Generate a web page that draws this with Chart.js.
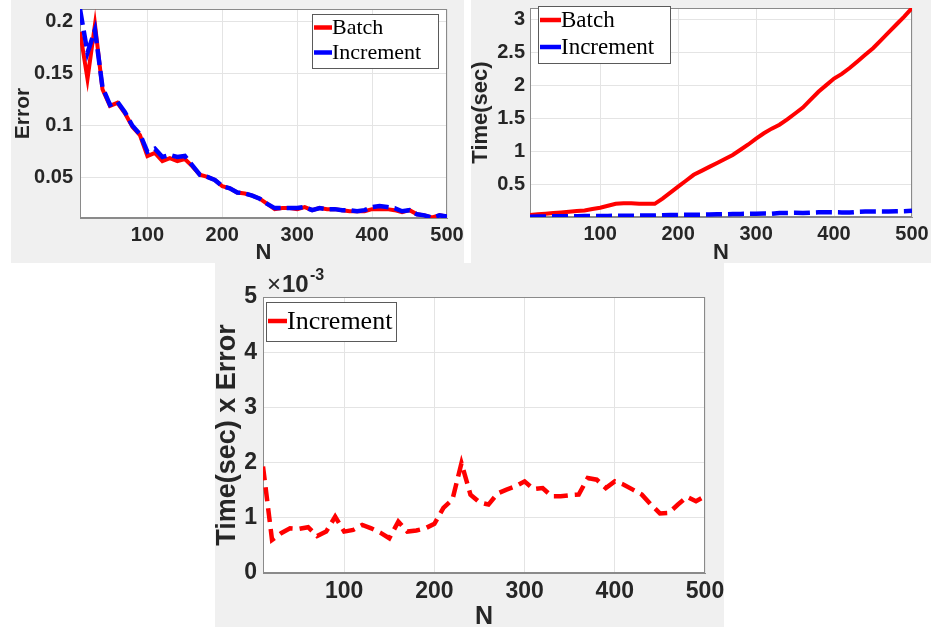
<!DOCTYPE html>
<html>
<head>
<meta charset="utf-8">
<script src="https://cdn.jsdelivr.net/npm/chart.js@4.4.1/dist/chart.umd.min.js"></script>
<style>
  body { margin: 0; background: #fff; width: 931px; height: 627px; position: relative; overflow: hidden; }
  .panel { position: absolute; background: #f0f0f0; }
  #p1 { left: 11px; top: 0; width: 453px; height: 263px; }
  #p2 { left: 471px; top: 0; width: 460px; height: 263px; }
  #p3 { left: 215px; top: 263px; width: 509px; height: 364px; }
</style>
</head>
<body>
<div class="panel" id="p1"><canvas id="c1"></canvas></div>
<div class="panel" id="p2"><canvas id="c2"></canvas></div>
<div class="panel" id="p3"><canvas id="c3"></canvas></div>
<script>
// sample sizes
const nValues = [10, 20, 30, 40, 50, 60, 70, 80, 90, 100,
  110, 120, 130, 140, 150, 160, 170, 180, 190, 200,
  210, 220, 230, 240, 250, 260, 270, 280, 290, 300,
  310, 320, 330, 340, 350, 360, 370, 380, 390, 400,
  410, 420, 430, 440, 450, 460, 470, 480, 490, 500];

// top-left: error
const errorBatch = [0.190, 0.145, 0.197, 0.135, 0.119, 0.122, 0.112, 0.099, 0.091, 0.071,
  0.074, 0.066, 0.069, 0.066, 0.068, 0.061, 0.053, 0.051, 0.048, 0.042,
  0.040, 0.036, 0.035, 0.033, 0.030, 0.025, 0.020, 0.021, 0.021, 0.020,
  0.022, 0.019, 0.021, 0.020, 0.020, 0.019, 0.018, 0.018, 0.018, 0.020,
  0.020, 0.020, 0.019, 0.017, 0.019, 0.015, 0.014, 0.012, 0.014, 0.013];
const errorIncrement = [0.212, 0.170, 0.192, 0.137, 0.120, 0.123, 0.113, 0.100, 0.092, 0.075,
  0.078, 0.070, 0.072, 0.070, 0.071, 0.062, 0.053, 0.051, 0.048, 0.042,
  0.040, 0.036, 0.035, 0.033, 0.030, 0.025, 0.021, 0.021, 0.021, 0.021,
  0.022, 0.019, 0.021, 0.020, 0.020, 0.019, 0.019, 0.018, 0.019, 0.022,
  0.023, 0.022, 0.021, 0.018, 0.019, 0.015, 0.014, 0.012, 0.014, 0.013];

// top-right: time (sec)
const timeBatch = [0.03, 0.04, 0.05, 0.06, 0.07, 0.08, 0.09, 0.10, 0.12, 0.14,
  0.17, 0.20, 0.21, 0.21, 0.20, 0.20, 0.20, 0.28, 0.37, 0.46,
  0.55, 0.64, 0.70, 0.76, 0.82, 0.88, 0.94, 1.02, 1.10, 1.19,
  1.27, 1.34, 1.40, 1.48, 1.57, 1.66, 1.78, 1.90, 2.00, 2.10,
  2.17, 2.26, 2.36, 2.46, 2.56, 2.68, 2.80, 2.92, 3.04, 3.17];
const timeIncrement = [0.005, 0.006, 0.008, 0.010, 0.011, 0.012, 0.013, 0.014, 0.015, 0.016,
  0.017, 0.018, 0.019, 0.020, 0.021, 0.022, 0.023, 0.027, 0.030, 0.032,
  0.033, 0.035, 0.036, 0.038, 0.040, 0.042, 0.045, 0.047, 0.048, 0.050,
  0.052, 0.050, 0.060, 0.062, 0.063, 0.060, 0.066, 0.072, 0.073, 0.072,
  0.070, 0.068, 0.078, 0.082, 0.085, 0.085, 0.084, 0.086, 0.089, 0.095];

// bottom: time x error
const timeErrorIncrement = [1.93e-3, 0.60e-3, 0.72e-3, 0.81e-3, 0.80e-3, 0.83e-3, 0.67e-3, 0.75e-3, 1.02e-3, 0.75e-3,
  0.78e-3, 0.87e-3, 0.81e-3, 0.73e-3, 0.63e-3, 0.93e-3, 0.75e-3, 0.77e-3, 0.81e-3, 0.89e-3,
  1.18e-3, 1.33e-3, 1.99e-3, 1.42e-3, 1.28e-3, 1.24e-3, 1.44e-3, 1.51e-3, 1.57e-3, 1.66e-3,
  1.52e-3, 1.54e-3, 1.39e-3, 1.39e-3, 1.41e-3, 1.42e-3, 1.72e-3, 1.69e-3, 1.54e-3, 1.66e-3,
  1.60e-3, 1.51e-3, 1.42e-3, 1.24e-3, 1.08e-3, 1.09e-3, 1.24e-3, 1.38e-3, 1.30e-3, 1.39e-3];

const xTicks = [100, 200, 300, 400, 500];
const errorTicks = [0.05, 0.1, 0.15, 0.2];
const timeTicks = [0.5, 1, 1.5, 2, 2.5, 3];
const productTicks = [0, 1e-3, 2e-3, 3e-3, 4e-3, 5e-3];

const SANS = "'Liberation Sans', Arial, Helvetica, sans-serif";
const SERIF = "'Liberation Serif', 'Times New Roman', serif";
const TEXT = '#262626';

const toPoints = ys => nValues.map((n, i) => ({ x: n, y: ys[i] }));

// white plot area + box frame like matlab
const frame = {
  id: 'frame',
  beforeDraw(chart) {
    const { ctx, chartArea: a } = chart;
    ctx.save();
    ctx.fillStyle = '#fff';
    ctx.fillRect(a.left, a.top, a.right - a.left, a.bottom - a.top);
    ctx.restore();
  },
  beforeDatasetsDraw(chart) {
    const { ctx, chartArea: a } = chart;
    ctx.save();
    ctx.strokeStyle = '#8a8a8a';
    ctx.lineWidth = 1;
    ctx.strokeRect(a.left + 0.5, a.top + 0.5, a.right - a.left - 1, a.bottom - a.top - 1);
    ctx.restore();
  }
};

// legend box drawn inside the axes
const boxLegend = {
  id: 'boxLegend',
  afterDraw(chart, args, o) {
    if (!o || !o.w) return;
    const ctx = chart.ctx;
    ctx.save();
    ctx.fillStyle = '#fff';
    ctx.fillRect(o.x, o.y, o.w, o.h);
    ctx.strokeStyle = '#5a5a5a';
    ctx.lineWidth = 1;
    ctx.strokeRect(o.x + 0.5, o.y + 0.5, o.w, o.h);
    ctx.font = o.font;
    ctx.textBaseline = 'middle';
    chart.data.datasets.forEach((ds, i) => {
      const cy = o.y + o.rowTop + i * o.rowGap;
      ctx.strokeStyle = ds.borderColor;
      ctx.lineWidth = 4.5;
      ctx.beginPath();
      ctx.moveTo(o.x + 2, cy);
      ctx.lineTo(o.x + 2 + o.sample, cy);
      ctx.stroke();
      ctx.fillStyle = '#000';
      ctx.fillText(ds.label, o.x + 2 + o.sample, cy + 1);
    });
    ctx.restore();
  }
};

// "x10^-3" multiplier text
const exponent = {
  id: 'exponent',
  afterDraw(chart, args, o) {
    if (!o || !o.show) return;
    const ctx = chart.ctx;
    ctx.save();
    ctx.fillStyle = TEXT;
    ctx.textBaseline = 'alphabetic';
    ctx.font = `24px ${SANS}`;
    ctx.fillText('\u00d7', o.x, o.y);
    ctx.font = `bold 24px ${SANS}`;
    ctx.fillText('10', o.x + 15, o.y);
    ctx.font = `bold 16px ${SANS}`;
    ctx.fillText('-3', o.x + 43, o.y - 12);
    ctx.restore();
  }
};

function makeAxes(o) {
  return {
    x: {
      type: 'linear', min: 10, max: 500,
      afterBuildTicks: s => { s.ticks = xTicks.map(v => ({ value: v })); },
      afterFit: s => { s.height = o.xh; s.paddingLeft = 0; s.paddingRight = 0; },
      grid: { color: '#e4e4e4', drawTicks: false },
      border: { color: '#8a8a8a' },
      ticks: { font: { family: SANS, size: o.tick, weight: 'bold' }, color: TEXT, padding: o.xpad, maxRotation: 0, autoSkip: false },
      title: { display: true, text: 'N', color: TEXT, font: { family: SANS, size: o.xtitle, weight: 'bold' }, padding: { top: 0, bottom: o.xtpad } }
    },
    y: {
      type: 'linear', min: o.ymin, max: o.ymax,
      afterBuildTicks: s => { s.ticks = o.yticks.map(v => ({ value: v })); },
      afterFit: s => { s.width = o.yw; s.paddingTop = 0; s.paddingBottom = 0; },
      grid: { color: '#e4e4e4', drawTicks: false },
      border: { color: '#8a8a8a' },
      ticks: { font: { family: SANS, size: o.tick, weight: 'bold' }, color: TEXT, padding: o.ypad, autoSkip: false, callback: o.fmt },
      title: { display: true, text: o.ytitle, color: TEXT, font: { family: SANS, size: o.ytsize, weight: 'bold' }, padding: { top: o.ytpad, bottom: 0 } }
    }
  };
}

function makeChart(id, datasets, axes, pad, legend, expo) {
  return new Chart(document.getElementById(id), {
    type: 'line',
    data: { datasets: datasets },
    options: {
      responsive: true,
      maintainAspectRatio: false,
      animation: false,
      devicePixelRatio: 1,
      layout: { padding: pad },
      elements: { point: { radius: 0 }, line: { tension: 0 } },
      plugins: { legend: { display: false }, tooltip: { enabled: false }, boxLegend: legend, exponent: expo || {} },
      scales: makeAxes(axes)
    },
    plugins: [frame, boxLegend, exponent]
  });
}

const trim = v => String(+v.toFixed(4));

makeChart('c1', [
  { label: 'Batch', data: toPoints(errorBatch), borderColor: '#ff0000', borderWidth: 4, order: 1 },
  { label: 'Increment', data: toPoints(errorIncrement), borderColor: '#0000ff', borderWidth: 4.5, borderDash: [16, 6], order: 0 }
], {
  xh: 45, yw: 69, tick: 20, xpad: 5, ypad: 7, xtitle: 22, xtpad: -3,
  ymin: 0.0115, ymax: 0.212, yticks: errorTicks, fmt: trim, ytitle: 'Error', ytsize: 21, ytpad: 0
}, { top: 9, right: 17, left: 0, bottom: 0 },
{ x: 301, y: 14, w: 126, h: 54, rowTop: 13.5, rowGap: 25, sample: 18, font: `22px ${SERIF}` });

makeChart('c2', [
  { label: 'Batch', data: toPoints(timeBatch), borderColor: '#ff0000', borderWidth: 4, order: 1 },
  { label: 'Increment', data: toPoints(timeIncrement), borderColor: '#0000ff', borderWidth: 4.5, borderDash: [16, 6], order: 0 }
], {
  xh: 46, yw: 59, tick: 20, xpad: 5, ypad: 5, xtitle: 22, xtpad: -3,
  ymin: 0, ymax: 3.17, yticks: timeTicks, fmt: trim, ytitle: 'Time(sec)', ytsize: 22, ytpad: -3
}, { top: 8, right: 19, left: 0, bottom: 0 },
{ x: 67, y: 6, w: 132, h: 57, rowTop: 14, rowGap: 27, sample: 21, font: `23px ${SERIF}` });

makeChart('c3', [
  { label: 'Increment', data: toPoints(timeErrorIncrement), borderColor: '#ff0000', borderWidth: 4.5, borderDash: [14, 7] }
], {
  xh: 54, yw: 48, tick: 23, xpad: 5, ypad: 6, xtitle: 25, xtpad: -5,
  ymin: 0, ymax: 5e-3, yticks: productTicks, fmt: v => String(Math.round(v * 1000)), ytitle: 'Time(sec) x Error', ytsize: 27, ytpad: -4
}, { top: 34, right: 19, left: 0, bottom: 0 },
{ x: 51, y: 39, w: 130, h: 39, rowTop: 19, rowGap: 0, sample: 19, font: `26px ${SERIF}` },
{ show: true, x: 52, y: 29 });
</script>
</body>
</html>
